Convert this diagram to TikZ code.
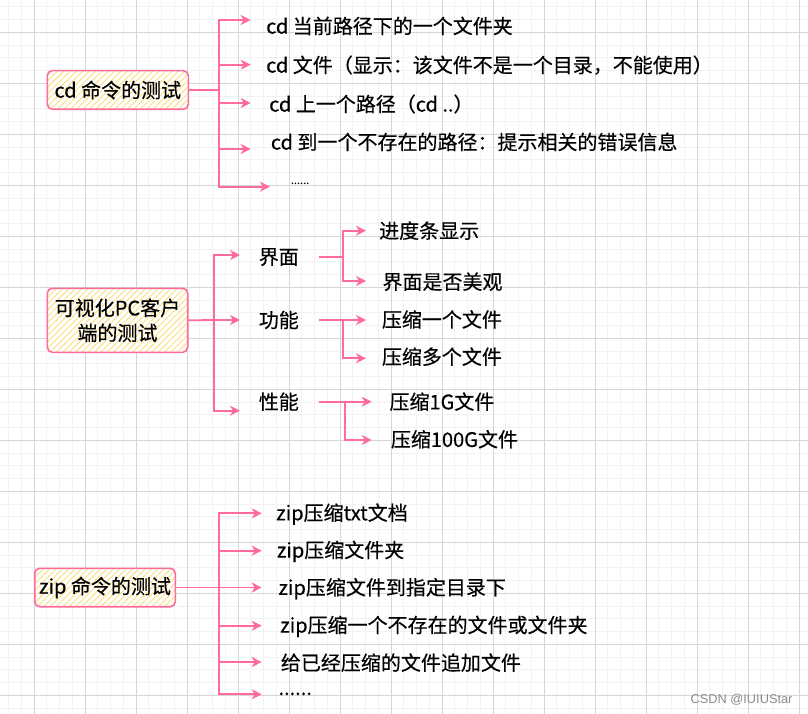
\documentclass[tikz,border=0pt]{standalone}
\usepackage{fontspec}
\setmainfont{Noto Sans CJK SC}[FakeBold=0.35]
\newfontfamily\markfont{Liberation Sans}
\usetikzlibrary{arrows.meta,patterns.meta}

\definecolor{linkpink}{HTML}{FF6B9A}
\definecolor{hatchyellow}{HTML}{FFDD7A}
\newcommand\leaffont{\fontsize{20}{24}\selectfont}
\newcommand\rootfont{\fontsize{20}{25}\selectfont}

\begin{document}
\begin{tikzpicture}[x=1pt, y=-1pt,
    minorgrid/.style={draw=black!5, line width=0.7pt},
    majorgrid/.style={draw=black!16, line width=0.7pt},
    root/.style={draw=linkpink, line width=1.6pt, rounded corners=5pt,
        preaction={fill=white},
        pattern={Lines[angle=45, distance=4.5pt, line width=0.9pt]},
        pattern color=hatchyellow, align=center, font=\rootfont, inner sep=0pt},
    leaf/.style={anchor=west, inner sep=0pt, font=\leaffont,
        text height=17.6pt, text depth=2.4pt},
    mid/.style={leaf, anchor=center, inner xsep=20pt},
    dots/.style={anchor=base west, inner sep=0pt},
    link/.style={draw=linkpink, line width=1.8pt},
    arrow/.style={link, -{Stealth[length=10pt, width=10pt, inset=3pt]}}
]

% background grid
\useasboundingbox[fill=white] (0,0) rectangle (808,714);
\foreach \i in {0,...,63} \draw[minorgrid] ({8.5+12.75*\i},0) -- ++(0,714);
\foreach \i in {0,...,56} \draw[minorgrid] (0,{6.8+12.75*\i}) -- ++(808,0);
\foreach \i in {0,...,15} \draw[majorgrid] ({34+51*\i},0) -- ++(0,714);
\foreach \i in {0,...,13} \draw[majorgrid] (0,{32.3+51*\i}) -- ++(808,0);

% cd branch
\node[root, minimum width=141pt, minimum height=38.6pt] (cd) at (117.8,90) {cd 命令的测试};
\coordinate (cdj) at (219.3,90);
\coordinate (cdtip1) at (250.7,20);
\coordinate (cdtip2) at (250.7,64.7);
\coordinate (cdtip3) at (250.7,103);
\coordinate (cdtip4) at (250.7,149);
\coordinate (cdtip5) at (270,186.7);
\node[leaf] (cd1) at (266,26)    {cd 当前路径下的一个文件夹};
\node[leaf] (cd2) at (266,65)    {cd 文件（显示：该文件不是一个目录，不能使用）};
\node[leaf] (cd3) at (269,104)   {cd 上一个路径（cd ..）};
\node[leaf] (cd4) at (270.7,142) {cd 到一个不存在的路径：提示相关的错误信息};
\node[dots, font=\fontsize{11}{13}\selectfont] (cd5) at (290.7,184) {......};

\draw[link] (cd.east) -- (cdj);
\foreach \i in {1,...,5} \draw[arrow] (cdj) |- (cdtip\i);

% PC client branch
\node[root, minimum width=140.4pt, minimum height=64pt] (pc) at (117.5,320.3) {可视化PC客户\\端的测试};
\coordinate (pcj) at (214.3,320);
\coordinate (pctip1) at (240,255);
\coordinate (pctip2) at (240,320);
\coordinate (pctip3) at (240,410.7);
\node[mid] (ui)   at (278.8,256.7) {界面};
\node[mid] (func) at (278.8,320)   {功能};
\node[mid] (perf) at (278.8,401.7) {性能};

\draw[link] (pc.east) -- (pcj);
\foreach \i in {1,2,3} \draw[arrow] (pcj) |- (pctip\i);

% second level
\coordinate (uij) at (343.3,256.7);
\coordinate (uitip1) at (366,230.7);
\coordinate (uitip2) at (366,281);
\node[leaf] (ui1) at (379,230.7)   {进度条显示};
\node[leaf] (ui2) at (382.3,281.7) {界面是否美观};

\coordinate (funcj) at (343.3,320);
\coordinate (functip1) at (366,320);
\coordinate (functip2) at (366,358.3);
\node[leaf] (func1) at (381.7,319.5) {压缩一个文件};
\node[leaf] (func2) at (381.7,356.7) {压缩多个文件};

\coordinate (perfj) at (345,401.7);
\coordinate (perftip1) at (371.7,401.7);
\coordinate (perftip2) at (371.7,440);
\node[leaf] (perf1) at (389.3,401.7) {压缩1G文件};
\node[leaf] (perf2) at (390.7,439.3) {压缩100G文件};

\draw[link] (ui.east) -- (uij);
\draw[link] (func.east) -- (funcj);
\draw[link] (perf.east) -- (perfj);
\foreach \i in {1,2} {
  \draw[arrow] (uij) |- (uitip\i);
  \draw[arrow] (funcj) |- (functip\i);
  \draw[arrow] (perfj) |- (perftip\i);
}

% zip branch
\node[root, minimum width=140.6pt, minimum height=38.4pt] (zip) at (105,587.5) {zip 命令的测试};
\coordinate (zipj) at (219,587.5);
\coordinate (ziptip1) at (261.7,513.3);
\coordinate (ziptip2) at (261.7,550.7);
\coordinate (ziptip3) at (261.7,587.5);
\coordinate (ziptip4) at (261.7,625.7);
\coordinate (ziptip5) at (261.7,662);
\coordinate (ziptip6) at (261.7,694.3);
\node[leaf] (zip1) at (276,512.7)   {zip压缩txt文档};
\node[leaf] (zip2) at (276.7,550)   {zip压缩文件夹};
\node[leaf] (zip3) at (278.3,587.3) {zip压缩文件到指定目录下};
\node[leaf] (zip4) at (280,625)     {zip压缩一个不存在的文件或文件夹};
\node[leaf] (zip5) at (280.7,662.7) {给已经压缩的文件追加文件};
\node[dots, font=\leaffont] (zip6) at (278.3,695) {......};

\draw[link] (zip.east) -- (zipj);
\foreach \i in {1,...,6} \draw[arrow] (zipj) |- (ziptip\i);

% watermark
\node[anchor=east, inner sep=0pt, text=black!45, font=\markfont\fontsize{12.8}{15}\selectfont]
  (mark) at (792.7,699.3) {CSDN @IUIUStar};

\end{tikzpicture}
\end{document}
